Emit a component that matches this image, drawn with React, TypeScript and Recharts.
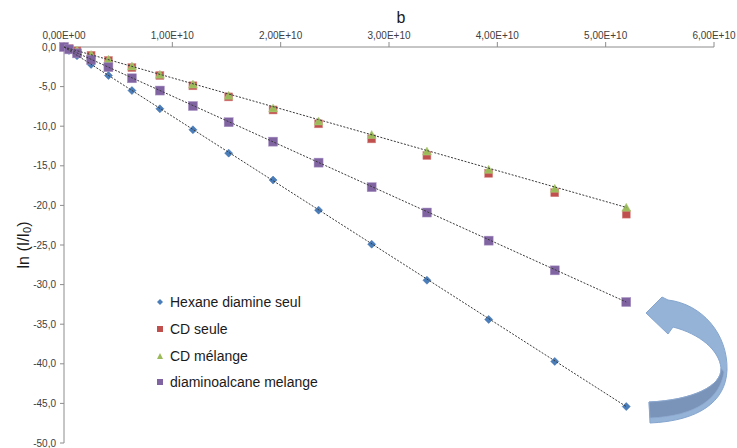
import { ScatterChart, Scatter, XAxis, YAxis, Label } from 'recharts'

// b values (s/m²) and ln(I/I0) for each series
const bValues = [0, 0.046e10, 0.12e10, 0.25e10, 0.41e10, 0.627e10, 0.885e10, 1.19e10, 1.52e10, 1.93e10, 2.35e10, 2.84e10, 3.35e10, 3.92e10, 4.53e10, 5.19e10]
const hexaneSeul = [0, -0.45, -1.1, -2.2, -3.6, -5.5, -7.8, -10.45, -13.4, -16.8, -20.6, -24.9, -29.45, -34.4, -39.7, -45.4]
const cdSeule = [0, -0.2, -0.5, -1.05, -1.7, -2.6, -3.6, -4.9, -6.3, -7.95, -9.7, -11.6, -13.7, -15.95, -18.4, -21.1]
const cdMelange = [0, -0.2, -0.45, -1.0, -1.6, -2.45, -3.5, -4.75, -6.15, -7.75, -9.4, -11.1, -13.2, -15.5, -17.9, -20.3]
const diaminoMelange = [0, -0.3, -0.8, -1.6, -2.55, -3.95, -5.5, -7.45, -9.5, -11.95, -14.6, -17.7, -20.9, -24.45, -28.2, -32.2]

// linear trendline end points (b, ln)
const trendB = [0, 5.19e10]
const trendHexane = [0, -45.4]
const trendCd = [0, -20.25]
const trendDiamino = [0, -32.2]

const xTicks = [0, 1e10, 2e10, 3e10, 4e10, 5e10, 6e10]
const yTicks = [0, -5, -10, -15, -20, -25, -30, -35, -40, -45, -50]

const FONT = '"Liberation Sans", Arial, sans-serif'
const AXIS = '#8c8c8c'

const toPoints = (ys: number[], xs: number[] = bValues) => xs.map((b, i) => ({ b, y: ys[i] }))

const fmtX = (v: number) => {
  if (v === 0) return '0,00E+00'
  return (v / 1e10).toFixed(2).replace('.', ',') + 'E+10'
}
const fmtY = (v: number) => v.toFixed(1).replace('.', ',')

const Diamond = ({ cx, cy }: any) => (
  <path d={`M${cx},${cy - 4}L${cx + 4},${cy}L${cx},${cy + 4}L${cx - 4},${cy}Z`} fill="#4A7EBB" stroke="#3A69A8" strokeWidth={0.5} />
)
const RedSquare = ({ cx, cy }: any) => (
  <rect x={cx - 4} y={cy - 4} width={8} height={8} fill="#C0504D" stroke="#D88A88" strokeWidth={0.5} />
)
const Triangle = ({ cx, cy }: any) => (
  <path d={`M${cx},${cy - 4.5}L${cx + 4.5},${cy + 3.5}L${cx - 4.5},${cy + 3.5}Z`} fill="#9BBB59" stroke="#B5CF86" strokeWidth={0.5} />
)
const PurpleSquare = ({ cx, cy }: any) => (
  <rect x={cx - 4.5} y={cy - 4.5} width={9} height={9} fill="#8064A2" stroke="#A993C4" strokeWidth={0.5} />
)
const Nothing = () => <g />

const YTitle = ({ viewBox }: any) => {
  const x = viewBox.x + 9
  const y = viewBox.y + viewBox.height / 2
  return (
    <text x={x} y={y} transform={`rotate(-90 ${x} ${y})`} textAnchor="middle" dominantBaseline="central" fontFamily={FONT} fontSize={16} fill="#1a1a1a">
      ln (I/I<tspan fontSize={11} dy={4}>0</tspan><tspan dy={-4}>)</tspan>
    </text>
  )
}

const XTitle = ({ viewBox }: any) => (
  <text x={viewBox.x + viewBox.width / 2 + 12} y={viewBox.y + 6} textAnchor="middle" fontFamily={FONT} fontSize={16} fill="#1a1a1a">
    b
  </text>
)

const legendItems = [
  { label: 'Hexane diamine seul', icon: <path d="M3,0L6,3L3,6L0,3Z" fill="#4A7EBB" /> },
  { label: 'CD seule', icon: <rect x={0} y={0} width={6} height={6} fill="#C0504D" /> },
  { label: 'CD mélange', icon: <path d="M3,0L6,6L0,6Z" fill="#9BBB59" /> },
  { label: 'diaminoalcane melange', icon: <rect x={0} y={0} width={6} height={6} fill="#8064A2" /> },
]

export default function App() {
  return (
    <div style={{ position: 'absolute', left: 0, top: 0, width: 737, height: 448, background: '#fff' }}>
      <ScatterChart width={737} height={448} margin={{ top: 17, right: 23, bottom: 5, left: 14 }}>
        <XAxis
          type="number"
          dataKey="b"
          orientation="top"
          height={30}
          domain={[0, 6e10]}
          ticks={xTicks}
          tickFormatter={fmtX}
          tickSize={5}
          tickMargin={3}
          stroke={AXIS}
          tick={{ fill: '#404040', fontSize: 10, fontFamily: FONT }}
          interval={0}
        >
          <Label content={<XTitle />} />
        </XAxis>
        <YAxis
          type="number"
          dataKey="y"
          width={50}
          domain={[-50, 0]}
          ticks={yTicks}
          tickFormatter={fmtY}
          tickSize={4}
          tickMargin={4}
          stroke={AXIS}
          tick={{ fill: '#404040', fontSize: 10, fontFamily: FONT }}
          interval={0}
        >
          <Label content={<YTitle />} />
        </YAxis>
        <Scatter data={toPoints(hexaneSeul)} shape={<Diamond />} isAnimationActive={false} />
        <Scatter data={toPoints(cdSeule)} shape={<RedSquare />} isAnimationActive={false} />
        <Scatter data={toPoints(cdMelange)} shape={<Triangle />} isAnimationActive={false} />
        <Scatter data={toPoints(diaminoMelange)} shape={<PurpleSquare />} isAnimationActive={false} />
        <Scatter data={toPoints(trendHexane, trendB)} shape={<Nothing />} line={{ stroke: '#3a3a3a', strokeWidth: 1, strokeDasharray: '2 1.5' }} isAnimationActive={false} />
        <Scatter data={toPoints(trendCd, trendB)} shape={<Nothing />} line={{ stroke: '#3a3a3a', strokeWidth: 1, strokeDasharray: '2 1.5' }} isAnimationActive={false} />
        <Scatter data={toPoints(trendDiamino, trendB)} shape={<Nothing />} line={{ stroke: '#3a3a3a', strokeWidth: 1, strokeDasharray: '2 1.5' }} isAnimationActive={false} />
      </ScatterChart>

      <div style={{ position: 'absolute', left: 157, top: 289, fontFamily: FONT, fontSize: 14, color: '#1a1a1a' }}>
        {legendItems.map((it) => (
          <div key={it.label} style={{ display: 'flex', alignItems: 'center', height: 26.7 }}>
            <svg width={6} height={6} style={{ marginRight: 7 }}>{it.icon}</svg>
            <span>{it.label}</span>
          </div>
        ))}
      </div>

      <svg width={737} height={448} style={{ position: 'absolute', left: 0, top: 0, pointerEvents: 'none' }}>
        <path
          d="M646,313 L662,297 L668,300 C702,304 728,334 727,370 C726,402 698,421 650,423 L649,402 C693,400 722,386 721,368 C719,350 700,334 673,327 L668,334 Z"
          fill="#95B3D7"
          stroke="#86A6CF"
          strokeWidth={1}
        />
        <path
          d="M721,368 C722,386 693,400 649,402 L650,418 C697,416 720,398 724,372 Z"
          fill="#7A93B8"
          stroke="#8FAAD0"
          strokeWidth={0.8}
        />
      </svg>
    </div>
  )
}
